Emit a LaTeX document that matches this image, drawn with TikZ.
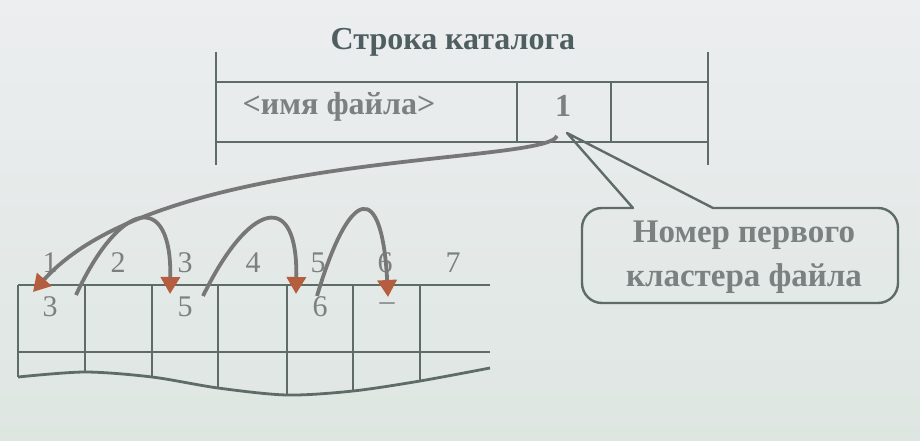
\documentclass[tikz,border=0pt]{standalone}
\usepackage{fontspec}
\setmainfont{Liberation Serif}
\usetikzlibrary{arrows.meta}
\definecolor{bgtop}{HTML}{ECEEF0}
\definecolor{bgbot}{HTML}{DEE6E2}
\definecolor{ln}{HTML}{5E6B67}
\definecolor{tx}{HTML}{4F5E60}
\definecolor{txl}{HTML}{7B8081}
\definecolor{arr}{HTML}{777777}
\definecolor{tip}{HTML}{B55E3F}
\tikzset{
  grid/.style={draw=ln, line width=2.8pt},
  lbl/.style={text=txl, font=\bfseries\fontsize{32}{36}\selectfont, inner sep=0pt},
  num/.style={text=txl, font=\fontsize{30}{32}\selectfont, inner sep=0pt},
  link/.style={draw=arr, line width=3.8pt, -{Triangle[length=17pt,width=19pt,fill=tip,color=tip]}},
}
\begin{document}
\begin{tikzpicture}[x=1pt,y=-1pt]
\useasboundingbox (0,0) rectangle (920,441);
\shade[top color=bgtop, bottom color=bgbot] (0,0) rectangle (920,441);
% directory row
\node[lbl, text=tx] (title) at (453,42) {Строка каталога};
\draw[grid] (216,52) -- (216,165);
\draw[grid] (708,52) -- (708,165);
\draw[grid] (216,82) -- (708,82);
\draw[grid] (216,142) -- (708,142);
\draw[grid] (517,82) -- (517,142);
\draw[grid] (611,82) -- (611,142);
\node[lbl] (name) at (339,107) {<имя файла>};
\node[lbl] (first) at (563,106) {1};
% callout
\node[lbl, align=center, font=\bfseries\fontsize{33}{44}\selectfont] (note) at (744,257) {Номер первого\\кластера файла};
\coordinate (ptip) at (567,133);
\draw[ln, line width=2.4pt, line join=round]
  (633,208) -- (ptip) -- (713,208) -- (878,208)
  to[out=0,in=90] (898,228) -- (898,283) to[out=-90,in=0] (878,303)
  -- (602,303) to[out=180,in=-90] (582,283) -- (582,228) to[out=90,in=180] (602,208) -- cycle;
% cluster table
\draw[grid] (18,285) -- (490,285);
\draw[grid] (18,352) -- (490,352);
\draw[grid] plot[smooth] coordinates {(18,377) (85,372) (152,377) (218,388) (287,395) (353,391) (420,381) (490,368)};
\draw[grid] (18,285) -- (18,377);
\draw[grid] (85,285) -- (85,372);
\draw[grid] (152,285) -- (152,377);
\draw[grid] (218,285) -- (218,388);
\draw[grid] (287,285) -- (287,395);
\draw[grid] (353,285) -- (353,391);
\draw[grid] (420,285) -- (420,381);
% cluster numbers
\node[num] (n1) at (50,263) {1};
\node[num] (n2) at (118,263) {2};
\node[num] (n3) at (185,263) {3};
\node[num] (n4) at (253,263) {4};
\node[num] (n5) at (318,263) {5};
\node[num] (n6) at (385,263) {6};
\node[num] (n7) at (453,263) {7};
% cell values
\node[num] (v1) at (50,307) {3};
\node[num] (v3) at (185,307) {5};
\node[num] (v5) at (320,307) {6};
\node[num] (v6) at (387,307) {–};
% arrow endpoints
\coordinate (s0) at (557,136);
\coordinate (e1) at (33,292);
\coordinate (s1) at (76,295);
\coordinate (e3) at (170,294);
\coordinate (s3) at (203,296);
\coordinate (e5) at (296,294);
\coordinate (s5) at (317,296);
\coordinate (e6) at (388,297);
\draw[link] (s0) .. controls (545,165) and (160,150) .. (e1);
\draw[link] (s1) .. controls (120,200) and (172,190) .. (e3);
\draw[link] (s3) .. controls (250,200) and (298,190) .. (e5);
\draw[link] (s5) .. controls (350,185) and (382,180) .. (e6);
\end{tikzpicture}
\end{document}
